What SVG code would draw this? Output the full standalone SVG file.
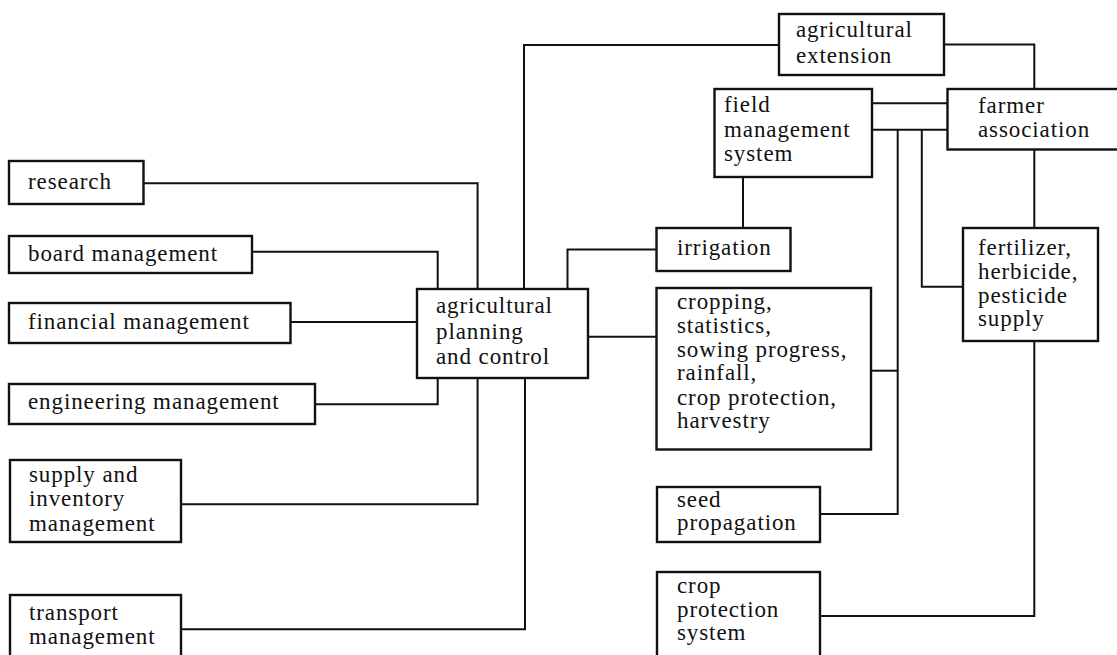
<svg xmlns="http://www.w3.org/2000/svg" width="1117" height="655" viewBox="0 0 1117 655">
<style>
.box{fill:#fff;stroke:#111;stroke-width:2.4}
.t{font-family:"Liberation Serif","Times New Roman",serif;font-size:23px;letter-spacing:0.9px;fill:#111}
.c{fill:none;stroke:#111;stroke-width:2}
</style>
<rect width="1117" height="655" fill="#fff"/>
<g id="connectors">
<path class="c" d="M143.5 183.3 H477.6 V289"/>
<path class="c" d="M252 251.7 H437.7 V289"/>
<path class="c" d="M290.5 322 H417"/>
<path class="c" d="M315 404.3 H437.7 V378"/>
<path class="c" d="M181 504.3 H477.6 V378"/>
<path class="c" d="M181 629.3 H525 V378"/>
<path class="c" d="M779 45 H524 V289"/>
<path class="c" d="M656.5 249.5 H567.5 V289"/>
<path class="c" d="M588 336.7 H656.5"/>
<path class="c" d="M743 177 V228"/>
<path class="c" d="M944 44.5 H1034.3 V89"/>
<path class="c" d="M872 103.3 H947.5"/>
<path class="c" d="M872 129.7 H947.5"/>
<path class="c" d="M897.7 129.7 V514 H820"/>
<path class="c" d="M871 370.7 H897.7"/>
<path class="c" d="M921.8 129.7 V286.7 H963"/>
<path class="c" d="M1034.3 149.5 V228"/>
<path class="c" d="M1034.3 341 V616 H820"/>
</g>
<g id="research"><rect class="box" x="9" y="161" width="134.5" height="43"/><text class="t" x="28" y="189">research</text></g>
<g id="board"><rect class="box" x="9" y="236" width="243" height="37"/><text class="t" x="28" y="261">board management</text></g>
<g id="financial"><rect class="box" x="9" y="303" width="281.5" height="40"/><text class="t" x="28" y="329">financial management</text></g>
<g id="engineering"><rect class="box" x="9" y="384" width="306" height="40"/><text class="t" x="28" y="409">engineering management</text></g>
<g id="supply"><rect class="box" x="10" y="460" width="171" height="82"/><text class="t" x="29" y="482">supply and</text><text class="t" x="29" y="506">inventory</text><text class="t" x="29" y="531">management</text></g>
<g id="transport"><rect class="box" x="10" y="595" width="171" height="70"/><text class="t" x="29" y="620">transport</text><text class="t" x="29" y="644">management</text></g>
<g id="planning"><rect class="box" x="417" y="289" width="171" height="89"/><text class="t" x="436" y="313">agricultural</text><text class="t" x="436" y="339">planning</text><text class="t" x="436" y="364">and control</text></g>
<g id="extension"><rect class="box" x="779" y="14" width="165" height="61"/><text class="t" x="796" y="37">agricultural</text><text class="t" x="796" y="63">extension</text></g>
<g id="field"><rect class="box" x="714.5" y="89" width="157.5" height="88"/><text class="t" x="724" y="112">field</text><text class="t" x="724" y="137">management</text><text class="t" x="724" y="161">system</text></g>
<g id="farmer"><rect class="box" x="947.5" y="89" width="180" height="60.5"/><text class="t" x="978" y="113">farmer</text><text class="t" x="978" y="137">association</text></g>
<g id="irrigation"><rect class="box" x="656.5" y="228" width="134" height="43"/><text class="t" x="677" y="255">irrigation</text></g>
<g id="fertilizer"><rect class="box" x="963" y="228" width="135" height="113"/><text class="t" x="978" y="255">fertilizer,</text><text class="t" x="978" y="279">herbicide,</text><text class="t" x="978" y="303">pesticide</text><text class="t" x="978" y="326">supply</text></g>
<g id="cropping"><rect class="box" x="656.5" y="288" width="214.5" height="161.5"/><text class="t" x="677" y="309">cropping,</text><text class="t" x="677" y="333">statistics,</text><text class="t" x="677" y="357">sowing progress,</text><text class="t" x="677" y="380">rainfall,</text><text class="t" x="677" y="405">crop protection,</text><text class="t" x="677" y="428">harvestry</text></g>
<g id="seed"><rect class="box" x="657" y="487" width="163" height="55"/><text class="t" x="677" y="507">seed</text><text class="t" x="677" y="530">propagation</text></g>
<g id="cropprotection"><rect class="box" x="657" y="572" width="163" height="93"/><text class="t" x="677" y="593">crop</text><text class="t" x="677" y="617">protection</text><text class="t" x="677" y="640">system</text></g>
</svg>
